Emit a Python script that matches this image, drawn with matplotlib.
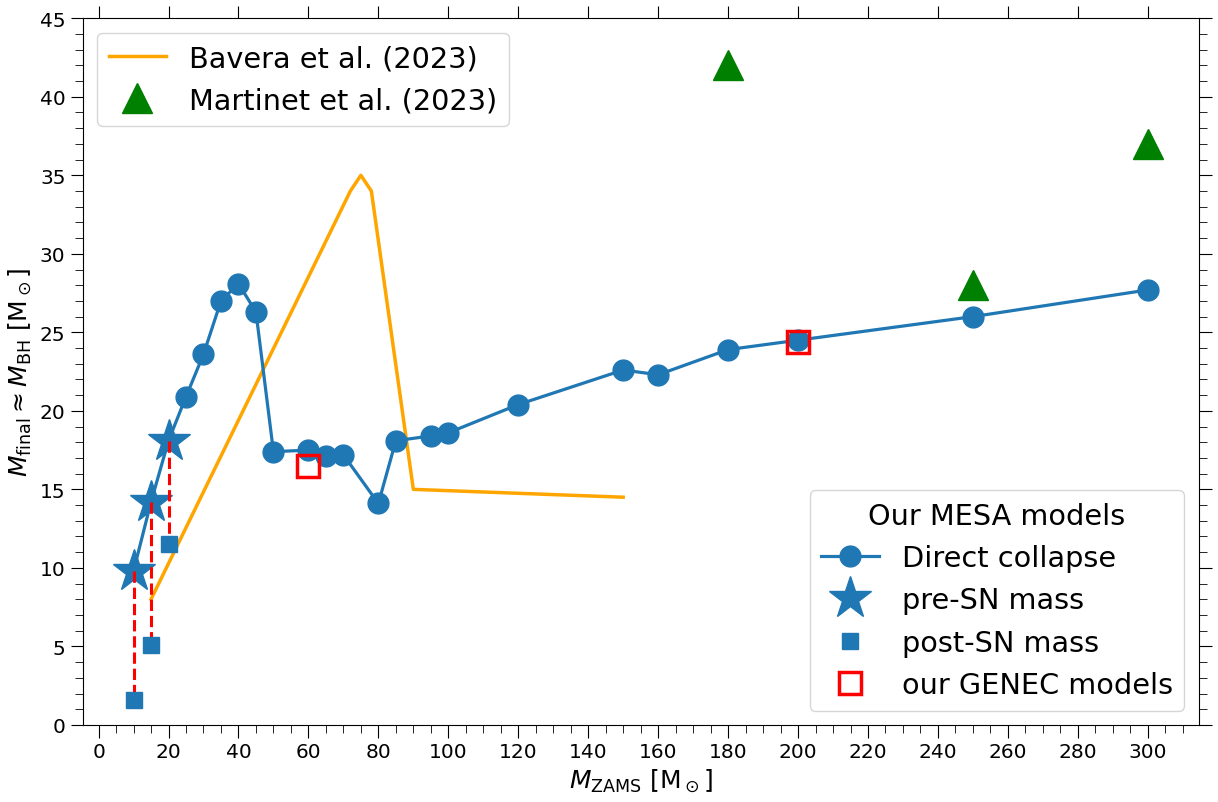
import numpy as np
import matplotlib
matplotlib.use("Agg")
import matplotlib.pyplot as plt
from matplotlib.ticker import MultipleLocator

# MESA direct collapse track (first three are the pre-SN masses of exploding models)
m_zams = [10, 15, 20, 25, 30, 35, 40, 45, 50, 60, 65, 70, 80, 85, 95, 100,
          120, 150, 160, 180, 200, 250, 300]
m_final = [9.8, 14.2, 18.1, 20.9, 23.6, 27.0, 28.1, 26.3, 17.4, 17.5, 17.1, 17.2,
           14.1, 18.1, 18.4, 18.6, 20.4, 22.6, 22.3, 23.9, 24.5, 26.0, 27.7]

# supernova models
sn_zams = [10, 15, 20]
pre_sn = [9.8, 14.2, 18.1]
post_sn = [1.6, 5.1, 11.5]

# GENEC models
genec_zams = [60, 200]
genec_mass = [16.5, 24.4]

# Bavera et al. (2023)
bavera_zams = [15, 72, 75, 78, 90, 150]
bavera_mass = [8.0, 34.0, 35.0, 34.0, 15.0, 14.5]

# Martinet et al. (2023)
martinet_zams = [180, 250, 300]
martinet_mass = [42.0, 28.0, 37.0]

blue = "#1f77b4"

fig, ax = plt.subplots(figsize=(12.18, 8.03), dpi=100)
fig.subplots_adjust(left=0.068, right=0.984, top=0.976, bottom=0.096)

l_bav, = ax.plot(bavera_zams, bavera_mass, color="orange", lw=2.5, label="Bavera et al. (2023)")
l_mar, = ax.plot(martinet_zams, martinet_mass, "^", color="green", ms=21, ls="none",
                 label="Martinet et al. (2023)")

l_dc, = ax.plot(m_zams, m_final, "-o", color=blue, lw=2.3, ms=15,
                markevery=list(range(3, len(m_zams))), label="Direct collapse")
for x, a, b in zip(sn_zams, pre_sn, post_sn):
    ax.plot([x, x], [a, b], "--", color="red", lw=2.2, zorder=3)
l_pre, = ax.plot(sn_zams, pre_sn, "*", color=blue, ms=32, ls="none", label="pre-SN mass", zorder=2)
l_post, = ax.plot(sn_zams, post_sn, "s", color=blue, ms=11, ls="none", label="post-SN mass", zorder=4)
l_gen, = ax.plot(genec_zams, genec_mass, "s", mfc="none", mec="red", mew=2.5, ms=16,
                 ls="none", label="our GENEC models", zorder=5)

ax.set_ylim(0, 45)
ax.set_xlabel(r"$M_\mathrm{ZAMS}$ [M$_\odot$]", fontsize=18)
ax.set_ylabel(r"$M_\mathrm{final} \approx M_\mathrm{BH}$ [M$_\odot$]", fontsize=18)

ax.xaxis.set_major_locator(MultipleLocator(20))
ax.xaxis.set_minor_locator(MultipleLocator(5))
ax.yaxis.set_major_locator(MultipleLocator(5))
ax.yaxis.set_minor_locator(MultipleLocator(1))
ax.tick_params(which="major", length=9, labelsize=14.5, top=True, right=True)
ax.tick_params(which="minor", length=6, right=True, top=False)

leg1 = ax.legend(handles=[l_bav, l_mar], loc="upper left", fontsize=20.7)
ax.add_artist(leg1)
ax.legend(handles=[l_dc, l_pre, l_post, l_gen], loc="lower right", fontsize=20.7,
          title="Our MESA models", title_fontsize=20.7)

fig.savefig("out.png", dpi=100)
